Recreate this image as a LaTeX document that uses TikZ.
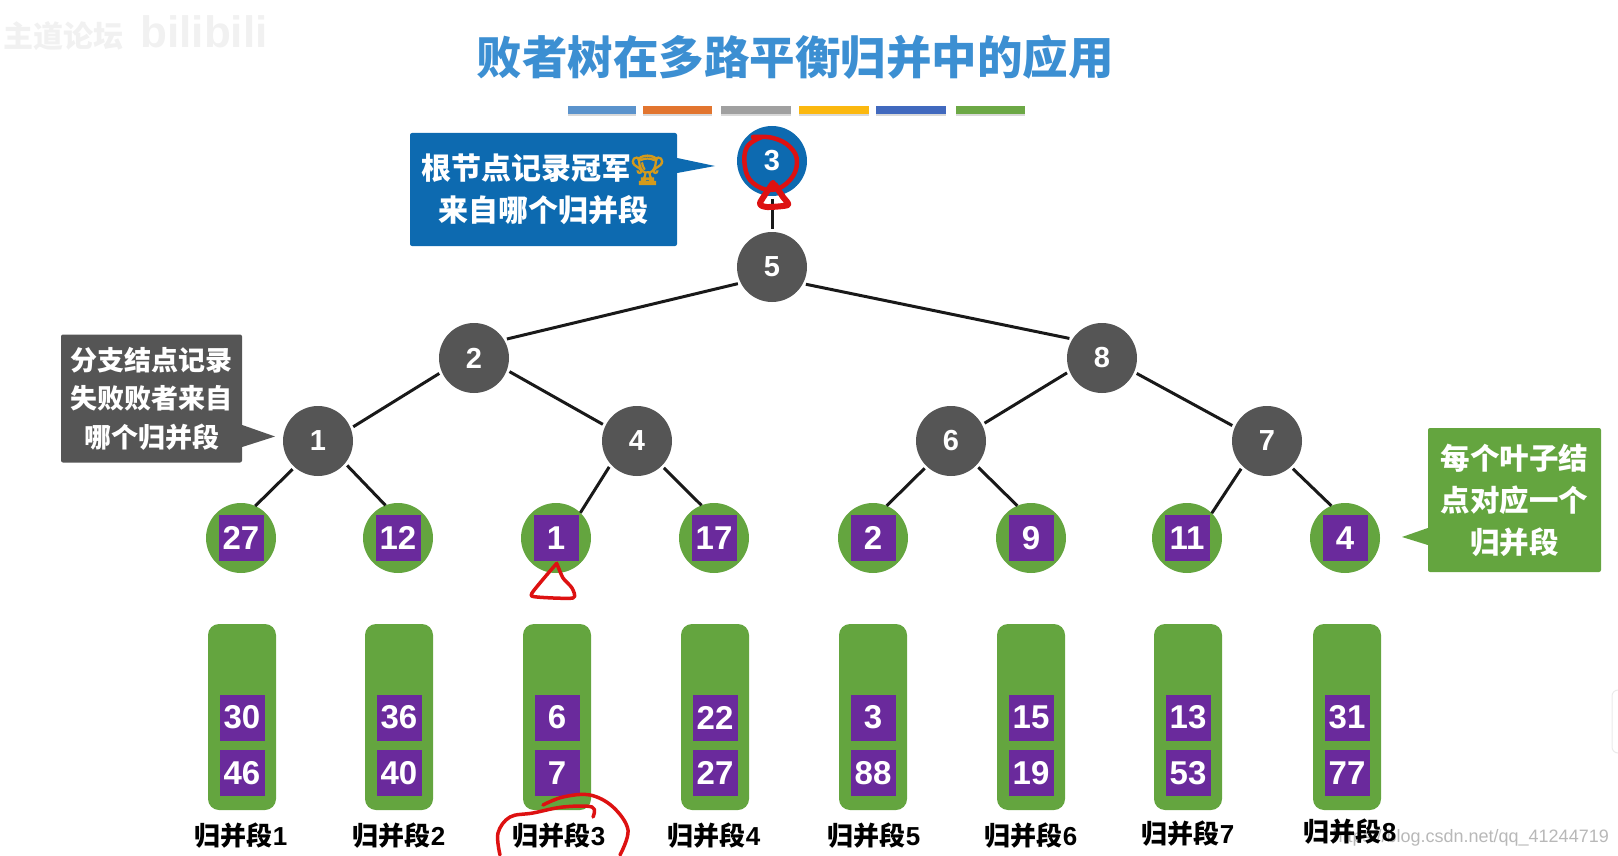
\documentclass[tikz,border=0pt]{standalone}
\usepackage{fontspec}
\setmainfont{Liberation Sans}
\newfontfamily\cjk{Noto Sans CJK SC}
\newfontfamily\emojifont[FakeBold=4]{Noto Emoji}
\definecolor{rootblue}{HTML}{0D6AB0}
\definecolor{titleblue}{HTML}{3C8FD2}
\definecolor{nodegray}{HTML}{555555}
\definecolor{leafgreen}{HTML}{64A53F}
\definecolor{boxpurple}{HTML}{6A2A9C}
\definecolor{redpen}{HTML}{DD1111}
\definecolor{trophy}{HTML}{D39A1C}
\definecolor{wm}{HTML}{F1F1F1}
\tikzset{
  x=1pt,y=-1pt,
  treenode/.style={circle,minimum size=70pt,inner sep=0pt,outer sep=3pt,fill=nodegray,text=white,font=\fontsize{29}{29}\selectfont\bfseries},
  rootnode/.style={treenode,fill=rootblue},
  leafnode/.style={circle,minimum size=70pt,inner sep=0pt,outer sep=0pt,fill=leafgreen},
  numbox/.style={rectangle,minimum width=45pt,minimum height=46pt,inner sep=0pt,fill=boxpurple,text=white,font=\fontsize{33}{33}\selectfont\bfseries},
  column/.style={rectangle,rounded corners=11pt,minimum width=68pt,minimum height=186pt,inner sep=0pt,fill=leafgreen},
  seglabel/.style={inner sep=0pt,text=black,font=\fontsize{26}{26}\selectfont\cjk\bfseries},
  edge/.style={line width=3pt,black!90},
  callout/.style={rectangle,rounded corners=2pt,inner sep=0pt,text=white,align=center},
  colorbar/.style={rectangle,minimum height=8pt,inner sep=0pt,anchor=west},
  pen/.style={draw=redpen,line width=4.5pt,line cap=round,line join=round},
}
\begin{document}
\begin{tikzpicture}
\useasboundingbox (0,0) rectangle (1618,856);
% watermarks
\node[inner sep=0pt,text=wm,font=\fontsize{30}{30}\selectfont\cjk\bfseries] (wmA) at (64,36) {主道论坛};
\node[inner sep=0pt,text=wm,font=\fontsize{44}{44}\selectfont\bfseries] (wmB) at (204,32) {bilibili};
\node[inner sep=0pt,text=black!28,anchor=east,font=\fontsize{18}{18}\selectfont] (wmC) at (1609,838) {https://blog.csdn.net/qq\_41244719};
\draw[black!8,line width=1pt,fill=white,rounded corners=6pt] (1625,690) -- (1612,690) -- (1612,753) -- (1625,753);
% title
\node[inner sep=0pt,text=titleblue,font=\fontsize{45.5}{46}\selectfont\cjk\bfseries] (title) at (795,57) {败者树在多路平衡归并中的应用};
% bars
\foreach \n/\l/\w/\c in {1/568/68/5B93CC,2/643/69/E2752F,3/721/70/A0A0A0,4/799/70/FBB80F,5/876/70/4169BE,6/956/69/6CA845}{
  \definecolor{barc}{HTML}{\c}
  \node[colorbar,minimum width=\w pt,fill=black!15,yshift=-2pt] (shade\n) at (\l,110) {};
  \node[colorbar,minimum width=\w pt,fill=barc] (bar\n) at (\l,110) {};
}
% tree nodes
\node[rootnode] (root) at (772,161) {3};
\foreach \n/\x/\y/\v in {five/772/267/5,two/474/358/2,eight/1102/358/8,one/318/441/1,four/637/441/4,six/951/441/6,seven/1267/441/7}
  \node[treenode] (\n) at (\x,\y) {\v};
% leaves
\foreach \n/\x/\v in {1/241/27,2/398/12,3/556/1,4/714/17,5/873/2,6/1031/9,7/1187/11,8/1345/4}{
  \node[leafnode] (leaf\n) at (\x,538) {};
  \node[numbox] (leafbox\n) at (\x,538) {\v};
}
% edges
\foreach \a/\aa/\b/\bb in {root/270/five/90,five/206/two/30,five/333/eight/149,two/204/one/22,two/339/four/154,eight/203/six/28,eight/336/seven/156,
  one/228/leaf1/66,one/320/leaf2/111,four/223/leaf3/46,four/315/leaf4/111,six/226/leaf5/67,six/316/leaf6/113,seven/227/leaf7/45,seven/313/leaf8/113}
  \draw[edge] (\a.\aa) -- (\b.\bb);
% columns
\foreach \n/\x/\p/\q/\lx/\ly in {1/242/30/46/241/836,2/399/36/40/399/836,3/557/6/7/559/836,4/715/22/27/714/836,5/873/3/88/874/836,6/1031/15/19/1031/836,7/1188/13/53/1188/834,8/1347/31/77/1350/832}{
  \node[column] (col\n) at (\x,717) {};
  \node[numbox] (top\n) at (\x,717.5) {\p};
  \node[numbox] (bot\n) at (\x,773) {\q};
  \node[seglabel] (seg\n) at (\lx,\ly) {归并段{\fontspec{Liberation Sans}\bfseries\n}};
}
% callouts
\node[callout,fill=rootblue,minimum width=267pt,minimum height=113pt,font=\fontsize{30}{42}\selectfont\cjk\bfseries] (noteroot) at (543.5,189.5)
  {根节点记录冠军\hspace{-2pt}{\emojifont\color{trophy}\fontsize{29}{29}\selectfont 🏆}\\来自哪个归并段};
\coordinate (tiproot) at (715,166);
\fill[rootblue] (noteroot.east |- 0,158) -- (tiproot) -- (noteroot.east |- 0,173) -- cycle;
\node[callout,fill=nodegray,minimum width=181pt,minimum height=128pt,font=\fontsize{27}{38.5}\selectfont\cjk\bfseries] (notebranch) at (151.5,398.5)
  {分支结点记录\\失败败者来自\\哪个归并段};
\coordinate (tipbranch) at (275,436.5);
\fill[nodegray] (notebranch.east |- 0,425) -- (tipbranch) -- (notebranch.east |- 0,447) -- cycle;
\node[callout,fill=leafgreen,minimum width=173pt,minimum height=144pt,font=\fontsize{29.5}{42}\selectfont\cjk\bfseries] (noteleaf) at (1514.5,500)
  {每个叶子结\\点对应一个\\归并段};
\coordinate (tipleaf) at (1402,537);
\fill[leafgreen] (noteleaf.west |- 0,528) -- (tipleaf) -- (noteleaf.west |- 0,545) -- cycle;
% red pen marks
\draw[pen] plot[smooth,tension=0.7] coordinates {(762,137)(747,147)(745,167)(753,183)(772,190)(790,180)(797,162)(790,147)(773,138)(753,137)};
\draw[pen,line width=6pt] plot[smooth,tension=0.4] coordinates {(773,183)(760,203)(767,207)(788,205)(783,197)(775,185)};
\draw[pen,line width=3.5pt] plot[smooth,tension=0.4] coordinates {(557,563)(532,593)(537,597)(573,598)(572,588)(563,578)(557,564)};
\draw[pen,line width=3.5pt] plot[smooth,tension=0.6] coordinates {(543,805)(563,797)(590,795)(613,807)(628,830)(620,855)};
\draw[pen,line width=3.5pt] plot[smooth,tension=0.6] coordinates {(593,817)(592,807)(563,807)(533,813)(510,817)(498,833)(500,855)};
\end{tikzpicture}
\end{document}
